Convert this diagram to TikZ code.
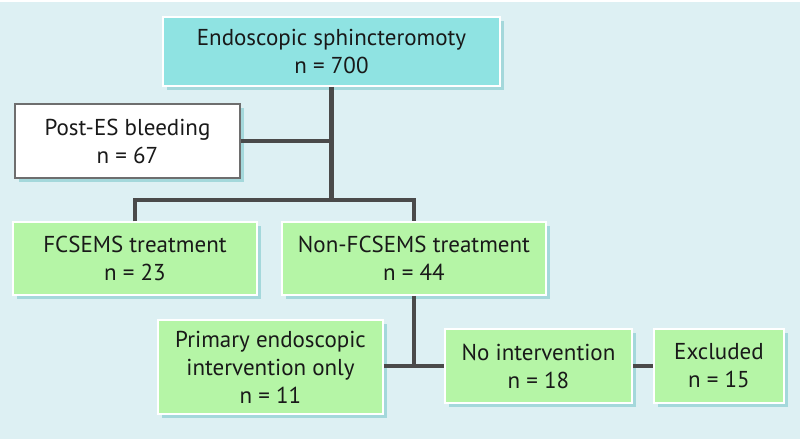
\documentclass[tikz,border=0pt]{standalone}
\usepackage{fontspec}
\setmainfont{PT Sans}
\usetikzlibrary{shadows}
\definecolor{bgc}{HTML}{DDF0F3}
\definecolor{cyanbox}{HTML}{8FE3E2}
\definecolor{greenbox}{HTML}{B5F5A6}
\definecolor{linec}{HTML}{4A4A4A}
\definecolor{shadc}{HTML}{7FC8CC}
\begin{document}
\begin{tikzpicture}[x=1pt,y=-1pt,
  box/.style={rectangle, draw=white, line width=1.5pt, align=center, inner sep=1pt,
    font=\fontsize{23}{28}\selectfont, text=black!90,
    drop shadow={shadow xshift=4pt, shadow yshift=-4pt, fill=shadc, opacity=0.6}},
  cbox/.style={box, fill=cyanbox},
  gbox/.style={box, fill=greenbox},
  wbox/.style={box, fill=white, draw=linec!80},
  conn/.style={draw=linec, line width=4.5pt}]
\fill[bgc] (0,0) rectangle (800,439);
\fill[white] (0,0) rectangle (800,2);
\useasboundingbox (0,0) rectangle (800,439);
\node[cbox, minimum width=337pt, minimum height=69pt] (top) at (331.5,51.5) {Endoscopic sphincteromoty\\n = 700};
\node[wbox, minimum width=225pt, minimum height=74pt] (post) at (127.5,141) {Post-ES bleeding\\n = 67};
\node[gbox, minimum width=244pt, minimum height=73pt] (fc) at (135,258.5) {FCSEMS treatment\\n = 23};
\node[gbox, minimum width=264pt, minimum height=73pt] (nf) at (414,258.5) {Non-FCSEMS treatment\\n = 44};
\node[gbox, minimum width=225pt, minimum height=94pt] (prim) at (270.5,367) {Primary endoscopic\\intervention only\\n = 11};
\node[gbox, minimum width=187pt, minimum height=74pt] (noint) at (538.5,366) {No intervention\\n = 18};
\node[gbox, minimum width=130pt, minimum height=74pt] (excl) at (719,366) {Excluded\\n = 15};
\coordinate (jb) at (top.south |- 0,200);
\draw[conn] (top.south) -- (jb);
\draw[conn] (post.east) -- (post.east -| top.south);
\draw[conn, line join=miter] (fc.north) |- (jb) -| (nf.north);
\draw[conn] (prim.east |- noint.west) -- (noint.west);
\draw[conn] (nf.south) -- (nf.south |- noint.west);
\draw[conn] (noint.east) -- (excl.west);
\end{tikzpicture}
\end{document}
